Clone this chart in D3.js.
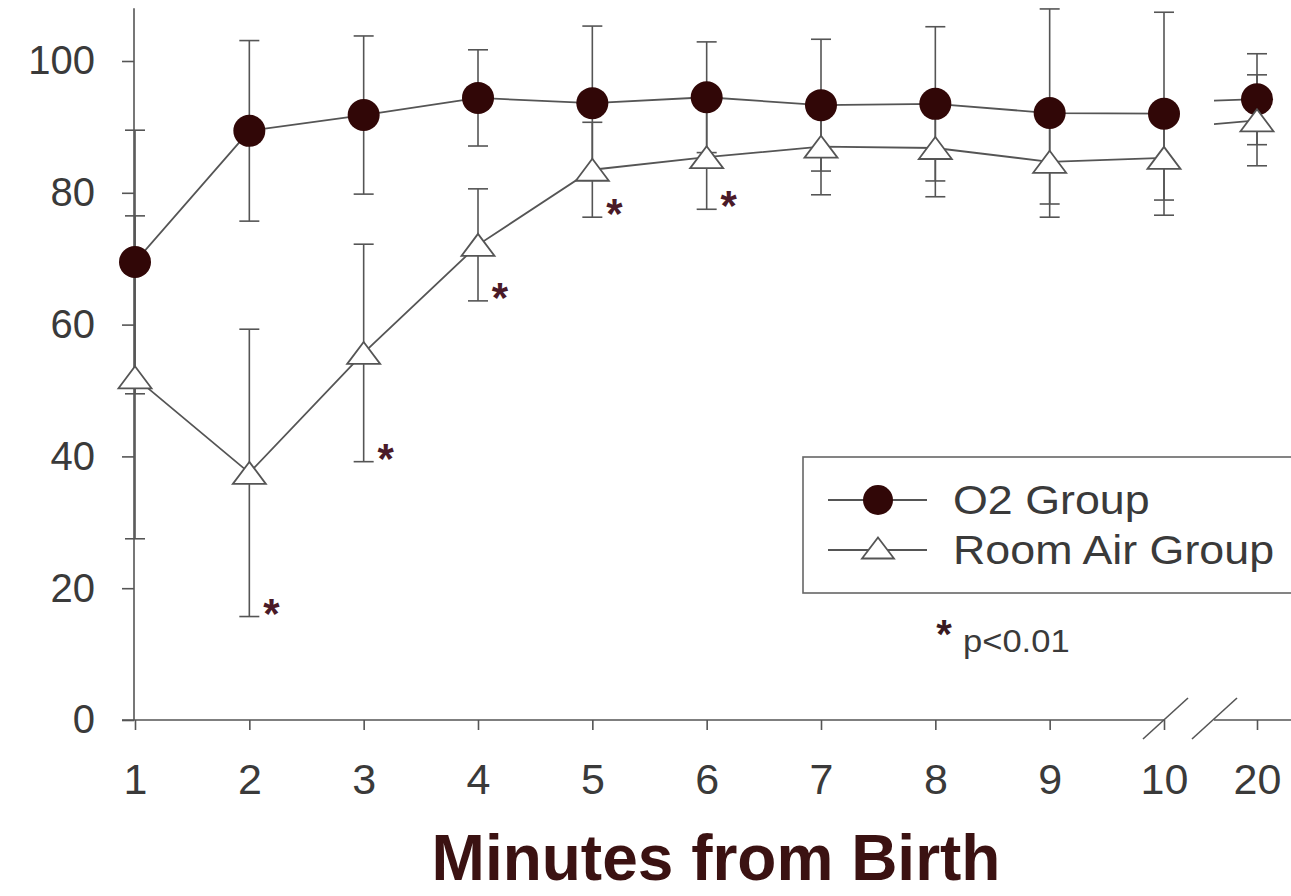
<!DOCTYPE html>
<html>
<head>
<meta charset="utf-8">
<script src="https://cdn.jsdelivr.net/npm/d3@7"></script>
<style>
  body { margin: 0; background: #fff; }
  svg { display: block; }
  text { font-family: "Liberation Sans", Arial, sans-serif; }
</style>
</head>
<body>
<script>
// data
var minutes = [1, 2, 3, 4, 5, 6, 7, 8, 9, 10, 20];
var o2Mean  = [69.5, 89.4, 91.8, 94.4, 93.6, 94.5, 93.3, 93.5, 92.1, 92.0, 94.2];
var o2SD    = [20.0, 13.7, 12.0, 7.3, 11.7, 8.4, 10.0, 11.7, 15.8, 15.4, 6.9];
var airMean = [52.0, 37.5, 55.7, 72.1, 83.5, 85.4, 87.0, 86.8, 84.7, 85.3, 91.0];
var airSD   = [24.5, 21.8, 16.5, 8.5, 7.2, 7.9, 7.3, 7.4, 6.4, 6.4, 6.9];
var significant = [0, 1, 1, 1, 1, 1, 0, 0, 0, 0, 0];
var yTicks = [0, 20, 40, 60, 80, 100];
var seriesNames = ["O2 Group", "Room Air Group"];

var width = 1291, height = 896;
var axisGray = "#555";
var dark = "#310707";

var svg = d3.select("body").append("svg")
    .attr("width", width)
    .attr("height", height);

// broken x scale: 1..10 evenly, then 20 after the break
var x = d3.scaleLinear().domain([1, 10, 20]).range([135, 1164, 1257]);
var y = d3.scaleLinear().domain([0, 100]).range([720, 61]);

//y axis
var yAxis = svg.append("g")
    .attr("transform", "translate(134,0)")
    .call(d3.axisLeft(y).tickValues(yTicks).tickSize(12).tickPadding(27));
yAxis.select(".domain").remove();
yAxis.selectAll("line").attr("stroke", axisGray).attr("stroke-width", 1.6);
yAxis.selectAll("text")
    .attr("font-size", 40)
    .attr("fill", "#3a3a3a")
    .style("font-family", "Liberation Sans, Arial, sans-serif");
svg.append("line")
    .attr("x1", 134).attr("x2", 134)
    .attr("y1", y(108)).attr("y2", y(0))
    .attr("stroke", axisGray).attr("stroke-width", 1.6);

//x axis
var xAxis = svg.append("g")
    .attr("transform", "translate(0," + y(0) + ")")
    .call(d3.axisBottom(x).tickValues(minutes).tickFormat(d3.format("d")).tickSize(10).tickPadding(33));
xAxis.select(".domain").remove();
xAxis.selectAll("line").attr("stroke", axisGray).attr("stroke-width", 1.6);
xAxis.selectAll("text")
    .attr("font-size", 43)
    .attr("fill", "#3a3a3a")
    .style("font-family", "Liberation Sans, Arial, sans-serif");

// axis line in two pieces with the break marks
var breakLeft = 1165, breakRight = 1214;
svg.append("line")
    .attr("x1", 122).attr("x2", breakLeft)
    .attr("y1", y(0)).attr("y2", y(0))
    .attr("stroke", axisGray).attr("stroke-width", 1.6);
svg.append("line")
    .attr("x1", breakRight).attr("x2", width)
    .attr("y1", y(0)).attr("y2", y(0))
    .attr("stroke", axisGray).attr("stroke-width", 1.6);
[breakLeft, breakRight].forEach(function(bx){
    svg.append("line")
        .attr("x1", bx - 22).attr("y1", y(0) + 19)
        .attr("x2", bx + 23).attr("y2", y(0) - 22)
        .attr("stroke", axisGray).attr("stroke-width", 1.6);
});

//x axis title
svg.append("text")
    .attr("x", 716)
    .attr("y", 880)
    .attr("text-anchor", "middle")
    .attr("font-size", 64)
    .attr("font-weight", "bold")
    .attr("fill", "#3b1212")
    .text("Minutes from Birth");

var rows = minutes.map(function(m, i){
    return {m: m, o2: o2Mean[i], o2sd: o2SD[i], air: airMean[i], airsd: airSD[i], sig: significant[i]};
});

//error bars
function errorBars(meanKey, sdKey){
    var g = svg.append("g").attr("stroke", axisGray).attr("stroke-width", 1.6);
    rows.forEach(function(d){
        var lo = y(d[meanKey] - d[sdKey]), hi = y(d[meanKey] + d[sdKey]), cx = x(d.m);
        g.append("line").attr("x1", cx).attr("x2", cx).attr("y1", lo).attr("y2", hi);
        g.append("line").attr("x1", cx - 10).attr("x2", cx + 10).attr("y1", lo).attr("y2", lo);
        g.append("line").attr("x1", cx - 10).attr("x2", cx + 10).attr("y1", hi).attr("y2", hi);
    });
}
errorBars("air", "airsd");
errorBars("o2", "o2sd");

//lines: 1..10 joined, then a short stub after the break leading into 20
function seriesLine(key){
    var line = d3.line().x(function(d){ return x(d.m); }).y(function(d){ return y(d[key]); });
    svg.append("path")
        .datum(rows.slice(0, 10))
        .attr("d", line)
        .attr("fill", "none")
        .attr("stroke", axisGray)
        .attr("stroke-width", 1.8);
    var a = rows[9], b = rows[10];
    var startVal = a[key] + 0.9 * (b[key] - a[key]);
    svg.append("line")
        .attr("x1", breakRight).attr("y1", y(startVal))
        .attr("x2", x(b.m)).attr("y2", y(b[key]))
        .attr("stroke", axisGray).attr("stroke-width", 1.8);
}
seriesLine("o2");
seriesLine("air");

//markers
function trianglePath(cx, cy, w, h){
    return "M" + cx + "," + (cy - h / 2) + "L" + (cx + w / 2) + "," + (cy + h / 2) + "L" + (cx - w / 2) + "," + (cy + h / 2) + "Z";
}
svg.append("g").selectAll("circle")
    .data(rows)
    .enter()
    .append("circle")
    .attr("cx", function(d){ return x(d.m); })
    .attr("cy", function(d){ return y(d.o2); })
    .attr("r", 16)
    .attr("fill", dark);
svg.append("g").selectAll("path")
    .data(rows)
    .enter()
    .append("path")
    .attr("d", function(d){ return trianglePath(x(d.m), y(d.air), 33, 22); })
    .attr("fill", "#fff")
    .attr("stroke", axisGray)
    .attr("stroke-width", 1.8);

//significance stars next to lower cap
svg.append("g").selectAll("text")
    .data(rows.filter(function(d){ return d.sig; }))
    .enter()
    .append("text")
    .attr("x", function(d){ return x(d.m) + 22; })
    .attr("y", function(d){ return y(d.air - d.airsd) + 11; })
    .attr("text-anchor", "middle")
    .attr("font-size", 42)
    .attr("font-weight", "bold")
    .attr("fill", "#4a1a28")
    .text("*");

//legend
var legend = svg.append("g");
legend.append("rect")
    .attr("x", 803).attr("y", 457)
    .attr("width", 520).attr("height", 136)
    .attr("fill", "#fff")
    .attr("stroke", "#666").attr("stroke-width", 1.6);
[500, 550].forEach(function(ly, i){
    legend.append("line")
        .attr("x1", 828).attr("x2", 927)
        .attr("y1", ly).attr("y2", ly)
        .attr("stroke", axisGray).attr("stroke-width", 1.8);
    if (i === 0) {
        legend.append("circle").attr("cx", 878).attr("cy", ly).attr("r", 15).attr("fill", dark);
    } else {
        legend.append("path")
            .attr("d", trianglePath(878, ly - 2, 32, 21))
            .attr("fill", "#fff").attr("stroke", axisGray).attr("stroke-width", 1.8);
    }
    legend.append("text")
        .attr("transform", "translate(953," + (ly + 14) + ") scale(1.12,1)")
        .attr("font-size", 40)
        .attr("fill", "#3a3a3a")
        .text(seriesNames[i]);
});
legend.append("text")
    .attr("x", 944).attr("y", 648)
    .attr("text-anchor", "middle")
    .attr("font-size", 40)
    .attr("font-weight", "bold")
    .attr("fill", "#3a1a22")
    .text("*");
legend.append("text")
    .attr("transform", "translate(963,652) scale(1.08,1)")
    .attr("font-size", 32)
    .attr("fill", "#3a3a3a")
    .text("p<0.01");
</script>
</body>
</html>
